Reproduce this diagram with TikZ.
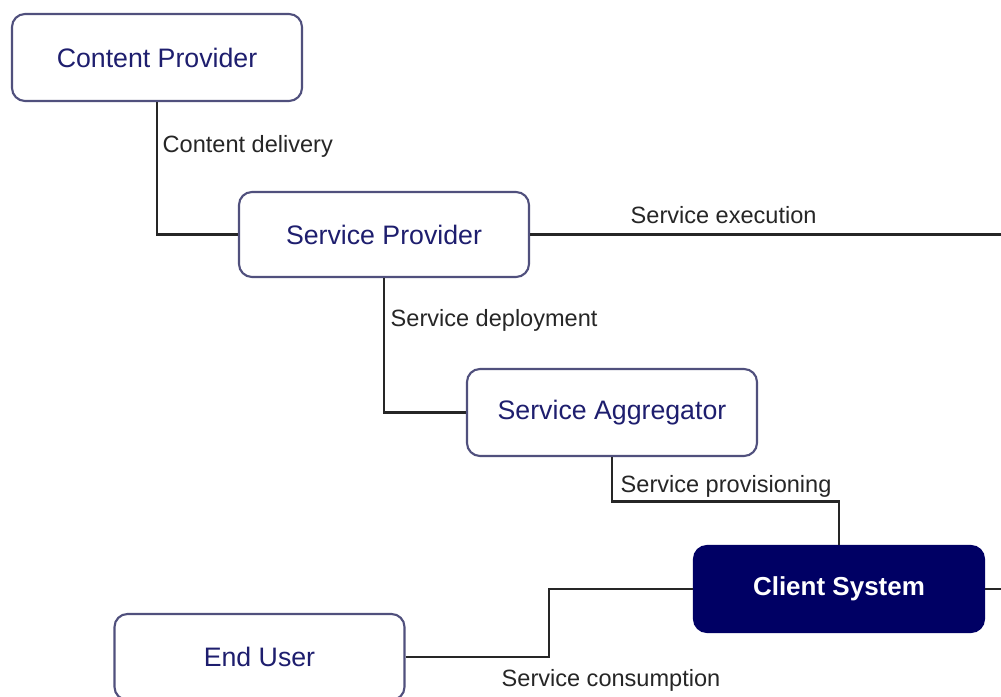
\documentclass[tikz,border=0pt]{standalone}
\usepackage{fontspec}
\setmainfont{Liberation Sans}
\usetikzlibrary{calc}
\definecolor{navytext}{RGB}{30,30,110}
\definecolor{boxline}{RGB}{80,80,125}
\definecolor{navyfill}{RGB}{0,0,100}
\begin{document}
\begin{tikzpicture}[
  box/.style={draw=boxline, line width=0.6pt, rounded corners=0.13cm, fill=white,
    minimum width=2.9cm, minimum height=0.86cm, inner sep=0pt,
    text=navytext, font=\fontsize{7.6}{9}\selectfont},
  darkbox/.style={box, fill=navyfill, draw=navyfill, text=white,
    font=\fontsize{7.4}{9}\selectfont\bfseries},
  conn/.style={draw=black!85, line width=0.6pt},
  lbl/.style={anchor=west, inner sep=0pt, text=black!85, font=\fontsize{6.7}{8}\selectfont}
]
\useasboundingbox (0,0) rectangle (10.01,-6.97);
\fill[white] (0,0) rectangle (10.01,-6.97);
\begin{scope}
\clip (0,0) rectangle (10.01,-6.97);
% nodes
\node[box, minimum height=0.87cm] (cp) at (1.57,-0.575) {Content Provider};
\node[box, minimum height=0.85cm] (sp) at (3.84,-2.345) {Service Provider};
\node[box, minimum height=0.87cm] (sa) at (6.12,-4.125) {Service Aggregator};
\node[darkbox] (cs) at (8.39,-5.89) {Client System};
\node[box, minimum height=0.86cm] (eu) at (2.595,-6.57) {End User};
\coordinate (se) at (10.05,-2.345);
\coordinate (ce) at (10.05,-5.89);
% connectors
\draw[conn] (cp.south) |- (sp.west);
\draw[conn] (sp.east) -- (se);
\draw[conn] (sp.south) |- (sa.west);
\draw[conn] (sa.south) -- ++(0,-0.445) -| (cs.north);
\draw[conn] (eu.east) -| ($(eu.east)!0.5!(cs.west)$) |- (cs.west);
\draw[conn] (cs.east) -- (ce);
% labels
\node[lbl] (l1) at (1.62,-1.46) {Content delivery};
\node[lbl] (l2) at (6.30,-2.15) {Service execution};
\node[lbl] (l3) at (3.90,-3.20) {Service deployment};
\node[lbl] (l4) at (6.20,-4.86) {Service provisioning};
\node[lbl] (l5) at (5.01,-6.80) {Service consumption};
\end{scope}
\end{tikzpicture}
\end{document}
